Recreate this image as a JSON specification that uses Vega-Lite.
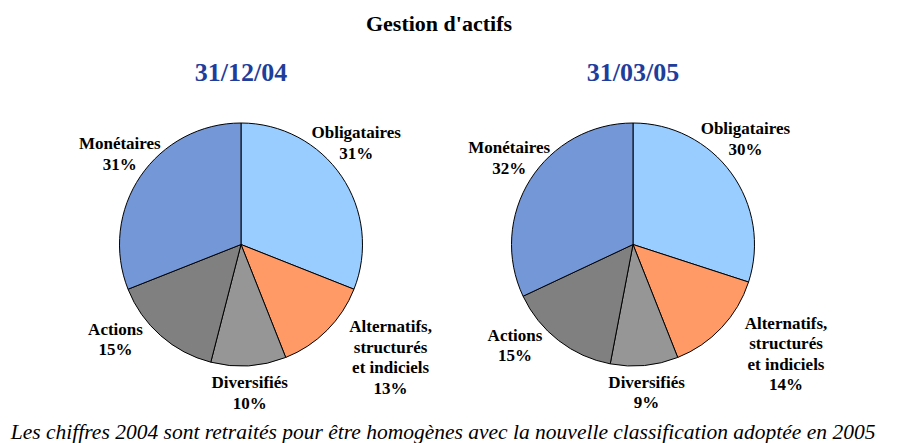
{
  "$schema": "https://vega.github.io/schema/vega-lite/v6.json",
  "padding": {"left": 10, "top": 13, "right": 0, "bottom": 0},
  "background": "white",
  "bounds": "flush",
  "spacing": 12,
  "data": {
    "values": [
      {"date": "31/12/04", "cat": "Obligataires", "v": 31, "k": 1},
      {"date": "31/12/04", "cat": "Alternatifs,\nstructurés\net indiciels", "v": 13, "k": 2},
      {"date": "31/12/04", "cat": "Diversifiés", "v": 10, "k": 3},
      {"date": "31/12/04", "cat": "Actions", "v": 15, "k": 4},
      {"date": "31/12/04", "cat": "Monétaires", "v": 31, "k": 5},
      {"date": "31/03/05", "cat": "Obligataires", "v": 30, "k": 1},
      {"date": "31/03/05", "cat": "Alternatifs,\nstructurés\net indiciels", "v": 14, "k": 2},
      {"date": "31/03/05", "cat": "Diversifiés", "v": 9, "k": 3},
      {"date": "31/03/05", "cat": "Actions", "v": 15, "k": 4},
      {"date": "31/03/05", "cat": "Monétaires", "v": 32, "k": 5}
    ]
  },
  "transform": [{"calculate": "datum.cat + '\\n' + datum.v + '%'", "as": "label"}],
  "title": {
    "text": "Les chiffres 2004 sont retraités pour être homogènes avec la nouvelle classification adoptée en 2005",
    "orient": "bottom",
    "anchor": "middle",
    "font": "Liberation Serif",
    "fontStyle": "italic",
    "fontWeight": "normal",
    "fontSize": 21.5,
    "color": "black",
    "offset": 10,
    "dx": 4
  },
  "facet": {
    "column": {
      "field": "date",
      "type": "nominal",
      "sort": ["31/12/04", "31/03/05"],
      "title": "Gestion d'actifs",
      "header": {
        "titleOrient": "top",
        "labelOrient": "top",
        "titleFont": "Liberation Serif",
        "titleFontWeight": "bold",
        "titleFontSize": 22,
        "titleColor": "black",
        "titlePadding": 14,
        "labelFont": "Liberation Serif",
        "labelFontWeight": "bold",
        "labelFontSize": 26,
        "labelColor": "#1F3E9C",
        "labelPadding": 37
      }
    }
  },
  "spec": {
    "width": 380,
    "height": 243,
    "encoding": {
      "theta": {"field": "v", "type": "quantitative", "stack": true},
      "order": {"field": "k", "type": "quantitative"}
    },
    "layer": [
      {
        "mark": {"type": "arc", "stroke": "black", "strokeWidth": 1},
        "encoding": {
          "color": {
            "field": "cat",
            "type": "nominal",
            "legend": null,
            "scale": {
              "domain": ["Obligataires", "Alternatifs,\nstructurés\net indiciels", "Diversifiés", "Actions", "Monétaires"],
              "range": ["#99CCFF", "#FF9966", "#969696", "#808080", "#7397D7"]
            }
          }
        }
      },
      {
        "mark": {"type": "text", "radius": 155, "font": "Liberation Serif", "fontWeight": "bold", "fontSize": 17, "lineHeight": 20.5, "lineBreak": "\n", "align": "center", "baseline": "middle", "dx": -13, "dy": -24},
        "encoding": {"text": {"condition": {"test": "datum.k === 1", "field": "label"}, "value": ""}}
      },
      {
        "mark": {"type": "text", "radius": 155, "font": "Liberation Serif", "fontWeight": "bold", "fontSize": 17, "lineHeight": 20.5, "lineBreak": "\n", "align": "center", "baseline": "middle", "dx": 40, "dy": -27},
        "encoding": {"text": {"condition": {"test": "datum.k === 2", "field": "label"}, "value": ""}}
      },
      {
        "mark": {"type": "text", "radius": 155, "font": "Liberation Serif", "fontWeight": "bold", "fontSize": 17, "lineHeight": 20.5, "lineBreak": "\n", "align": "center", "baseline": "middle", "dx": -1, "dy": -16},
        "encoding": {"text": {"condition": {"test": "datum.k === 3", "field": "label"}, "value": ""}}
      },
      {
        "mark": {"type": "text", "radius": 155, "font": "Liberation Serif", "fontWeight": "bold", "fontSize": 17, "lineHeight": 20.5, "lineBreak": "\n", "align": "center", "baseline": "middle", "dx": -23, "dy": -31},
        "encoding": {"text": {"condition": {"test": "datum.k === 4", "field": "label"}, "value": ""}}
      },
      {
        "mark": {"type": "text", "radius": 155, "font": "Liberation Serif", "fontWeight": "bold", "fontSize": 17, "lineHeight": 20.5, "lineBreak": "\n", "align": "center", "baseline": "middle", "dx": 7, "dy": -13},
        "encoding": {"text": {"condition": {"test": "datum.k === 5", "field": "label"}, "value": ""}}
      }
    ]
  },
  "config": {"view": {"stroke": null}}
}
